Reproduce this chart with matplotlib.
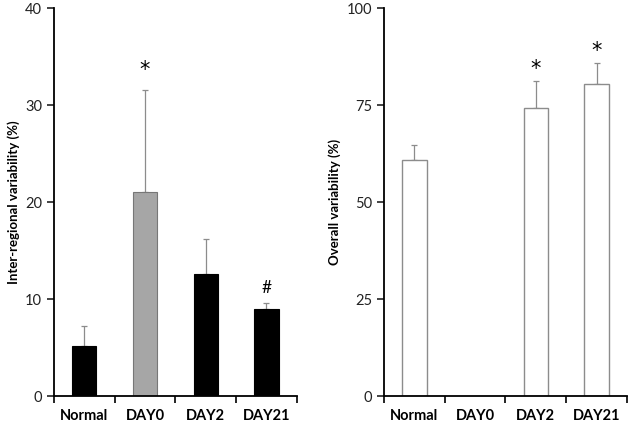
import matplotlib
matplotlib.use("Agg")
import matplotlib.pyplot as plt
import numpy as np

plt.rcParams['font.family'] = ['Lato', 'DejaVu Sans']

categories = ["Normal", "DAY0", "DAY2", "DAY21"]
inter_values = [5.2, 21.0, 12.6, 9.0]
inter_err = [2.0, 10.6, 3.6, 0.55]
inter_colors = ["black", "#a6a6a6", "black", "black"]
inter_marks = ["", "*", "", "#"]
inter_mark_y = [None, 33.6, None, 11.1]

overall_values = [60.9, np.nan, 74.2, 80.5]
overall_err = [3.8, np.nan, 7.0, 5.3]
overall_marks = ["", "", "*", "*"]
overall_mark_y = [None, None, 84.3, 88.9]

fig = plt.figure(figsize=(6.3, 4.25), dpi=100)
ax1 = fig.add_axes([0.0857, 0.0682, 0.3853, 0.9129])
ax2 = fig.add_axes([0.6095, 0.0682, 0.3857, 0.9129])

x = np.arange(len(categories)) + 0.5
errc = "#8c8c8c"

def style(ax, ymax, ticks, ylabel):
    ax.set_xlim(0, 4)
    ax.set_ylim(0, ymax)
    ax.set_yticks(ticks)
    ax.set_xticks([0, 1, 2, 3, 4])
    ax.set_xticklabels([])
    ax.set_xticks(x, minor=True)
    ax.set_xticklabels(categories, minor=True, fontsize=10.5, fontweight='bold')
    ax.tick_params(axis='x', which='minor', length=0, pad=9)
    ax.tick_params(axis='x', which='major', length=5, width=1.2, direction='out')
    ax.tick_params(axis='y', length=5, width=1.2, direction='out', labelsize=10.5, colors='#222222', labelcolor='#222222')
    for s in ['top', 'right']:
        ax.spines[s].set_visible(False)
    for s in ['left', 'bottom']:
        ax.spines[s].set_linewidth(1.3)
    ax.set_ylabel(ylabel, fontsize=9.5, fontweight='bold', labelpad=4)

# left panel
edge1 = ["black", "#777777", "black", "black"]
ax1.bar(x, inter_values, width=0.4, color=inter_colors, edgecolor=edge1, linewidth=0.8, zorder=2)
ax1.errorbar(x, inter_values, yerr=[np.zeros(4), inter_err], fmt='none', ecolor=errc,
             elinewidth=0.9, capsize=2.5, capthick=0.9, zorder=1)
for xi, m, my in zip(x, inter_marks, inter_mark_y):
    if m == '*':
        ax1.text(xi, my, m, ha='center', va='center', fontsize=15, family='DejaVu Sans')
    elif m:
        ax1.text(xi, my, m, ha='center', va='center', fontsize=12.5)
style(ax1, 40, [0, 10, 20, 30, 40], "Inter-regional variability (%)")

# right panel
ax2.bar(x, overall_values, width=0.4, color='white', edgecolor="#8c8c8c", linewidth=1.0, zorder=2)
ax2.errorbar(x, overall_values, yerr=[np.zeros(4), overall_err], fmt='none', ecolor=errc,
             elinewidth=0.9, capsize=2.5, capthick=0.9, zorder=1)
for xi, m, my in zip(x, overall_marks, overall_mark_y):
    if m:
        ax2.text(xi, my, m, ha='center', va='center', fontsize=15, family='DejaVu Sans')
style(ax2, 100, [0, 25, 50, 75, 100], "Overall variability (%)")

fig.savefig("out.png", dpi=100)
